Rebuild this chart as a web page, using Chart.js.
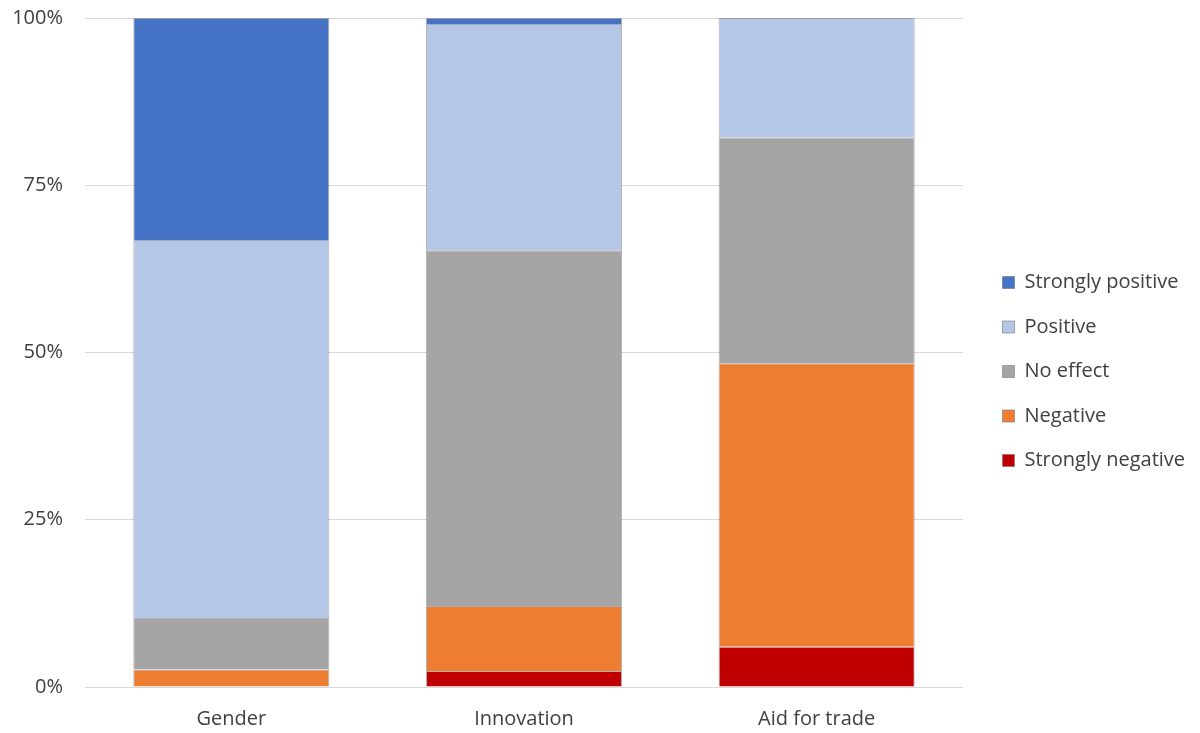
<!DOCTYPE html>
<html>
<head>
<meta charset="utf-8">
<script src="https://cdn.jsdelivr.net/npm/chart.js@4"></script>
<style>
  body { margin: 0; background: #fff; }
  #wrap { width: 1200px; height: 733px; }
</style>
</head>
<body>
<div id="wrap"><canvas id="chart"></canvas></div>
<script>
// categories and shares (%)
const categories = ['Gender', 'Innovation', 'Aid for trade'];
const stronglyNegative = [0, 2.4, 6.0];
const negative = [2.6, 9.7, 42.4];
const noEffect = [7.7, 53.2, 33.7];
const positive = [56.4, 33.7, 17.9];
const stronglyPositive = [33.3, 1.0, 0];
const yTicks = [0, 25, 50, 75, 100];

const font = { family: 'Open Sans', size: 20 };
const edge = 'rgba(110,110,120,0.55)';

function ds(label, data, color) {
  return { label, data, backgroundColor: color, borderColor: edge, borderWidth: 1 };
}

// legend: fixed width, items pushed a bit right of the plot and down
const legendSpot = {
  id: 'legendSpot',
  beforeLayout(chart) {
    const lg = chart.legend;
    if (!lg || lg._wrapped) return;
    const fit = lg.fit;
    lg.fit = function () { fit.call(this); this.width = 237; };
    lg._wrapped = true;
  },
  afterLayout(chart) {
    const lg = chart.legend;
    lg.left += 15;
    lg.top += 5;
    lg.bottom += 5;
  }
};

new Chart(document.getElementById('chart'), {
  type: 'bar',
  data: {
    labels: categories,
    datasets: [
      ds('Strongly negative', stronglyNegative, '#c00000'),
      ds('Negative', negative, '#ed7d31'),
      ds('No effect', noEffect, '#a5a5a5'),
      ds('Positive', positive, '#b4c7e7'),
      ds('Strongly positive', stronglyPositive, '#4472c4')
    ]
  },
  plugins: [legendSpot],
  options: {
    responsive: true,
    maintainAspectRatio: false,
    animation: false,
    layout: { padding: 0 },
    datasets: { bar: { categoryPercentage: 1, barPercentage: 0.67 } },
    plugins: {
      tooltip: { enabled: false },
      legend: {
        position: 'right',
        reverse: true,
        labels: {
          font, color: '#404040', boxWidth: 12, boxHeight: 12, padding: 24.5
        }
      }
    },
    scales: {
      x: {
        stacked: true,
        afterFit: s => { s.height = 46; },
        grid: { display: false },
        border: { display: false },
        ticks: { font, color: '#404040', padding: 12 }
      },
      y: {
        stacked: true,
        min: 0, max: 100,
        afterBuildTicks: s => { s.ticks = yTicks.map(v => ({ value: v })); },
        afterFit: s => { s.width = 85; s.paddingTop = 18; s.paddingBottom = 0; },
        grid: { color: '#d9d9d9', drawTicks: false },
        border: { display: false },
        ticks: { font, color: '#404040', padding: 22, callback: v => v + '%' }
      }
    }
  }
});
</script>
</body>
</html>
